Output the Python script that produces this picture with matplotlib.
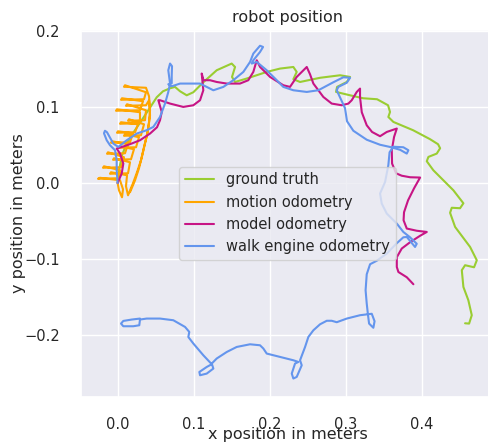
import numpy as np
import matplotlib
matplotlib.use("Agg")
import matplotlib.pyplot as plt
import seaborn as sns

# ground truth trajectory (meters)
gt_x = [0.000, 0.0018, 0.0058, 0.0110, 0.0202, 0.0317, 0.0426, 0.0514, 0.0597, 0.0689,
        0.0754, 0.0820, 0.0908, 0.0995, 0.1126, 0.1302, 0.1499, 0.1543, 0.1503, 0.1543,
        0.1696, 0.1959, 0.2134, 0.2309, 0.2353, 0.2309, 0.2397, 0.2660, 0.2923, 0.3054,
        0.3011, 0.2883, 0.2870, 0.3054, 0.3225, 0.3409, 0.3553, 0.3579, 0.3557, 0.3623,
        0.3882, 0.4105, 0.4210, 0.4237, 0.4193, 0.4083, 0.4062, 0.4148, 0.4411, 0.4543,
        0.4499, 0.4390, 0.4368, 0.4434, 0.4631, 0.4719, 0.4683, 0.4565, 0.4522, 0.4543,
        0.4608, 0.4653, 0.4618, 0.4565]
gt_y = [0.000, 0.0167, 0.0364, 0.0496, 0.0654, 0.0825, 0.0990, 0.1126, 0.1205, 0.1244,
        0.1262, 0.1205, 0.1152, 0.1192, 0.1323, 0.1481, 0.1569, 0.1524, 0.1393, 0.1327,
        0.1372, 0.1459, 0.1503, 0.1524, 0.1459, 0.1363, 0.1327, 0.1382, 0.1415, 0.1393,
        0.1327, 0.1262, 0.1196, 0.1152, 0.1113, 0.1100, 0.1021, 0.0933, 0.0867, 0.0802,
        0.0693, 0.0575, 0.0509, 0.0456, 0.0386, 0.0342, 0.0285, 0.0167, -0.0096, -0.0267,
        -0.0332, -0.0326, -0.0392, -0.0578, -0.0841, -0.1016, -0.1108, -0.1081, -0.1147, -0.1367,
        -0.1541, -0.1738, -0.1848, -0.1844]

# motion odometry
mo_x = [0.0, 0.0018, 0.0058, 0.0071, 0.0032, -0.0231, -0.0258, 0.0018, 0.0032, -0.0179,
        -0.0192, 0.0045, 0.0084, -0.0126, -0.0139, 0.0097, 0.0137, -0.0074, -0.0087, 0.0163,
        0.0202, 0.0005, -0.0008, 0.0229, 0.0268, 0.0045, 0.0032, 0.0294, 0.0294, -0.0008,
        -0.0021, 0.0294, 0.0334, 0.0058, 0.0045, 0.0347, 0.0373, 0.0097, 0.0084, 0.0373,
        0.0413, 0.0426, 0.0413, 0.0386, 0.0347, 0.0307, 0.0255, 0.0202, 0.0137, 0.0110,
        0.0124, -0.0087, -0.0100, 0.0137, 0.0163, -0.0047, -0.0060, 0.0176, 0.0215, 0.0032,
        0.0018, 0.0242, 0.0281, 0.0097, 0.0084, 0.0307, 0.0347, 0.0150, 0.0137, 0.0360,
        0.0373, 0.0124, 0.0110, 0.0373, 0.0413, 0.0426, 0.0399, 0.0360, 0.0321, 0.0281,
        0.0229, 0.0163]
mo_y = [0.0, -0.0096, -0.0188, -0.0083, 0.0035, 0.0068, 0.0055, 0.0062, 0.0167, 0.0219,
        0.0200, 0.0206, 0.0338, 0.0403, 0.0384, 0.0390, 0.0509, 0.0548, 0.0528, 0.0535,
        0.0653, 0.0679, 0.0660, 0.0666, 0.0771, 0.0798, 0.0778, 0.0785, 0.0929, 0.0968,
        0.0949, 0.0955, 0.1074, 0.1113, 0.1093, 0.1100, 0.1192, 0.1284, 0.1264, 0.1251,
        0.1139, 0.0955, 0.0798, 0.0627, 0.0469, 0.0298, 0.0141, -0.0004, -0.0162, -0.0043,
        0.0101, 0.0141, 0.0121, 0.0127, 0.0272, 0.0325, 0.0305, 0.0311, 0.0443, 0.0482,
        0.0463, 0.0469, 0.0601, 0.0640, 0.0620, 0.0627, 0.0771, 0.0837, 0.0817, 0.0824,
        0.0955, 0.1034, 0.1014, 0.1021, 0.1087, 0.0890, 0.0693, 0.0522, 0.0351, 0.0193,
        0.0035, -0.0122]

# model odometry
md_x = [0.000, 0.0054, 0.0075, 0.0032, -0.0012, 0.0084, 0.0185, 0.0294, 0.0426, 0.0518,
        0.0557, 0.0580, 0.0535, 0.0557, 0.0689, 0.0863, 0.0995, 0.1083, 0.1126, 0.1105,
        0.1122, 0.1126, 0.1214, 0.1302, 0.1434, 0.1608, 0.1717, 0.1783, 0.1828, 0.1872,
        0.1915, 0.2003, 0.2177, 0.2265, 0.2353, 0.2485, 0.2528, 0.2572, 0.2703, 0.2813,
        0.2945, 0.3032, 0.3076, 0.3142, 0.3185, 0.3185, 0.3208, 0.3273, 0.3343, 0.3448,
        0.3536, 0.3668, 0.3632, 0.3602, 0.3606, 0.3658, 0.3733, 0.3842, 0.3974, 0.3895,
        0.3816, 0.3763, 0.3757, 0.3799, 0.3930, 0.4062, 0.3974, 0.3842, 0.3733, 0.3668,
        0.3668, 0.3689, 0.3799, 0.3886]
md_y = [0.000, 0.0124, 0.0255, 0.0386, 0.0452, 0.0482, 0.0518, 0.0561, 0.0649, 0.0732,
        0.0824, 0.0933, 0.1087, 0.1087, 0.1043, 0.0999, 0.1021, 0.1087, 0.1218, 0.1438,
        0.1376, 0.1350, 0.1350, 0.1327, 0.1306, 0.1306, 0.1350, 0.1459, 0.1612, 0.1524,
        0.1481, 0.1393, 0.1284, 0.1262, 0.1393, 0.1524, 0.1428, 0.1306, 0.1130, 0.1043,
        0.1021, 0.1043, 0.1087, 0.1196, 0.1240, 0.1126, 0.0929, 0.0758, 0.0670, 0.0614,
        0.0670, 0.0715, 0.0604, 0.0430, 0.0255, 0.0127, 0.0095, 0.0075, 0.0071, -0.0070,
        -0.0228, -0.0385, -0.0490, -0.0599, -0.0628, -0.0644, -0.0694, -0.0779, -0.0862, -0.0976,
        -0.1104, -0.1170, -0.1239, -0.1331]

# walk engine odometry
we_x = [0.000, -0.0012, -0.0012, -0.0034, -0.0100, -0.0143, -0.0179, -0.0166, -0.0139, -0.0057,
        0.0009, 0.0120, 0.0251, 0.0382, 0.0469, 0.0557, 0.0623, 0.0666, 0.0689, 0.0666,
        0.0689, 0.0715, 0.0711, 0.0711, 0.0666, 0.0715, 0.0820, 0.1083, 0.1171, 0.1258,
        0.1389, 0.1520, 0.1652, 0.1740, 0.1783, 0.1871, 0.1911, 0.1871, 0.1783, 0.1762,
        0.1828, 0.1959, 0.2091, 0.2177, 0.2309, 0.2485, 0.2637, 0.2834, 0.2966, 0.3054,
        0.3011, 0.2900, 0.2879, 0.2922, 0.2988, 0.3014, 0.3097, 0.3273, 0.3448, 0.3579,
        0.3711, 0.3799, 0.3820, 0.3754, 0.3623, 0.3573, 0.3557, 0.3514, 0.3448, 0.3470,
        0.3536, 0.3668, 0.3754, 0.3842, 0.3930, 0.3908, 0.3799, 0.3754, 0.3668, 0.3536,
        0.3405, 0.3317, 0.3273, 0.3258, 0.3273, 0.3290, 0.3304, 0.3360, 0.3376, 0.3339,
        0.3185, 0.3011, 0.2879, 0.2813, 0.2748, 0.2660, 0.2572, 0.2506, 0.2463, 0.2397,
        0.2419, 0.2353, 0.2309, 0.2288, 0.2331, 0.2375, 0.2309, 0.2134, 0.1959, 0.1915,
        0.1871, 0.1740, 0.1565, 0.1434, 0.1302, 0.1237, 0.1258, 0.1171, 0.1083, 0.1074,
        0.1171, 0.1237, 0.1126, 0.0995, 0.0929, 0.0942, 0.0886, 0.0732, 0.0557, 0.0382,
        0.0294, 0.0285, 0.0206, 0.0075, 0.0045, 0.0075, 0.0185, 0.0294]
we_y = [0.000, 0.0167, 0.0298, 0.0430, 0.0496, 0.0561, 0.0653, 0.0686, 0.0666, 0.0518,
        0.0473, 0.0561, 0.0649, 0.0693, 0.0736, 0.0867, 0.1043, 0.1196, 0.1306, 0.1481,
        0.1569, 0.1534, 0.1415, 0.1310, 0.1297, 0.1271, 0.1306, 0.1306, 0.1262, 0.1218,
        0.1262, 0.1350, 0.1459, 0.1590, 0.1700, 0.1803, 0.1787, 0.1721, 0.1612, 0.1569,
        0.1590, 0.1481, 0.1350, 0.1262, 0.1218, 0.1196, 0.1218, 0.1323, 0.1389, 0.1382,
        0.1317, 0.1262, 0.1218, 0.1126, 0.0982, 0.0811, 0.0686, 0.0568, 0.0502, 0.0473,
        0.0436, 0.0386, 0.0430, 0.0469, 0.0476, 0.0403, 0.0233, 0.0013, -0.0139, -0.0271,
        -0.0402, -0.0534, -0.0644, -0.0714, -0.0799, -0.0841, -0.0710, -0.0714, -0.0792, -0.0928,
        -0.1022, -0.1068, -0.1200, -0.1410, -0.1585, -0.1738, -0.1848, -0.1903, -0.1817, -0.1719,
        -0.1738, -0.1782, -0.1830, -0.1811, -0.1811, -0.1857, -0.1936, -0.2024, -0.2155, -0.2330,
        -0.2396, -0.2549, -0.2570, -0.2505, -0.2373, -0.2352, -0.2330, -0.2286, -0.2242, -0.2176,
        -0.2133, -0.2120, -0.2155, -0.2221, -0.2307, -0.2373, -0.2439, -0.2505, -0.2527, -0.2484,
        -0.2418, -0.2382, -0.2264, -0.2110, -0.2024, -0.1958, -0.1892, -0.1804, -0.1782, -0.1782,
        -0.1795, -0.1870, -0.1883, -0.1883, -0.1848, -0.1813, -0.1795, -0.1782]

x_ticks = [0.0, 0.1, 0.2, 0.3, 0.4]
y_ticks = [-0.2, -0.1, 0.0, 0.1, 0.2]

sns.set_theme(style="darkgrid")

fig = plt.figure(figsize=(4.89, 4.45), dpi=100)
ax = fig.add_axes([0.165, 0.1085, 0.846, 0.8241])

ax.plot(gt_x, gt_y, color="yellowgreen", label="ground truth")
ax.plot(mo_x, mo_y, color="orange", label="motion odometry")
ax.plot(md_x, md_y, color="mediumvioletred", label="model odometry")
ax.plot(we_x, we_y, color="cornflowerblue", label="walk engine odometry")

ax.set_xlim(-0.0485, 0.495)
ax.set_ylim(-0.2809, 0.2010)
ax.set_xticks(x_ticks)
ax.set_yticks(y_ticks)
ax.tick_params(axis="x", labelsize=10.5, pad=8.5)
ax.tick_params(axis="y", labelsize=10.5, pad=9)
ax.set_title("robot position", fontsize=11.5)
ax.set_xlabel("x position in meters", fontsize=11.5)
ax.set_ylabel("y position in meters", fontsize=11.5)
ax.xaxis.set_label_coords(0.5, -0.083)
ax.yaxis.set_label_coords(-0.132, 0.5)
ax.legend(loc="center", fontsize=10.5)

fig.savefig("out.png", dpi=100)
